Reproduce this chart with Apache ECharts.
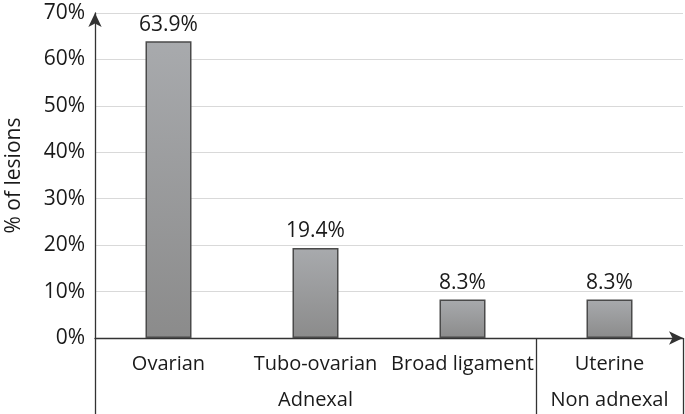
<!DOCTYPE html>
<html><head><meta charset="utf-8">
<script src="https://cdn.jsdelivr.net/npm/echarts@6/dist/echarts.min.js"></script>
<style>html,body{margin:0;padding:0;background:#fff}#c{width:685px;height:414px}</style>
</head><body><div id="c"></div>
<script>
var categories = ['Ovarian', 'Tubo-ovarian', 'Broad ligament', 'Uterine'];
var groupLabels = ['', 'Adnexal', '', 'Non adnexal'];
var values = [63.9, 19.4, 8.3, 8.3];
var yTicks = [0, 10, 20, 30, 40, 50, 60, 70];

var FONT = 'Open Sans';
var chart = echarts.init(document.getElementById('c'), null, {renderer: 'canvas'});
var labelData = categories.map(function (c, i) {
  return groupLabels[i] ? c + '\n{g|' + groupLabels[i] + '}' : c;
});
chart.setOption({
  animation: false,
  grid: {left: 95, right: 2, top: 13, bottom: 76, containLabel: false, outerBoundsMode: 'none'},
  xAxis: {
    type: 'category',
    data: labelData,
    axisLine: {show: true, symbol: ['none', 'arrow'], symbolSize: [10, 14], lineStyle: {color: '#333', width: 1.3}},
    axisTick: {
      show: true, length: 76, inside: false,
      interval: function (idx) { return idx === 0 || idx === 3; },
      lineStyle: {color: '#333', width: 1.3}
    },
    axisLabel: {
      interval: 0, margin: 8, color: '#1a1a1a', fontFamily: FONT, fontSize: 20, lineHeight: 36,
      rich: {g: {fontFamily: FONT, fontSize: 20, color: '#1a1a1a', lineHeight: 36}}
    }
  },
  yAxis: {
    type: 'value', min: yTicks[0], max: yTicks[yTicks.length - 1], interval: 10,
    name: '% of lesions', nameLocation: 'middle', nameGap: 70, nameRotate: 90,
    nameTextStyle: {fontFamily: FONT, fontSize: 21, color: '#1a1a1a'},
    axisLine: {show: true, symbol: ['none', 'arrow'], symbolSize: [10, 14], lineStyle: {color: '#333', width: 1.3}},
    axisTick: {show: false},
    axisLabel: {formatter: '{value}%', margin: 10, color: '#1a1a1a', fontFamily: FONT, fontSize: 21},
    splitLine: {show: true, lineStyle: {color: '#d9d9d9', width: 1.2}}
  },
  series: [{
    type: 'bar',
    data: values,
    barWidth: 46,
    itemStyle: {
      color: new echarts.graphic.LinearGradient(0, 0, 0, 1, [
        {offset: 0, color: '#a8aaad'}, {offset: 1, color: '#8b8b8b'}
      ]),
      borderColor: '#4a4a4a', borderWidth: 1.5
    },
    label: {
      show: true, position: 'top', distance: 6,
      formatter: function (p) { return p.value.toFixed(1) + '%'; },
      fontFamily: FONT, fontSize: 21, color: '#1a1a1a'
    }
  }]
});
</script></body></html>
